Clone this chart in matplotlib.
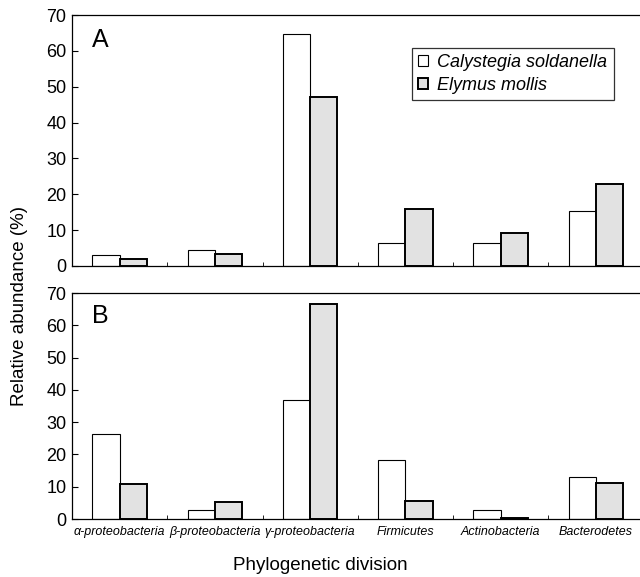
import numpy as np
import matplotlib
matplotlib.use("Agg")
import matplotlib.pyplot as plt

plt.rcParams["font.family"] = ["Liberation Sans", "DejaVu Sans"]

# === Data ===
categories = ["α-proteobacteria", "β-proteobacteria", "γ-proteobacteria",
              "Firmicutes", "Actinobacteria", "Bacterodetes"]
series_names = ["Calystegia soldanella", "Elymus mollis"]

# Panel A
a_calystegia = [3.1, 4.6, 64.6, 6.3, 6.3, 15.4]
a_elymus = [1.9, 3.3, 47.2, 15.8, 9.1, 23.0]
# Panel B
b_calystegia = [26.2, 2.8, 36.9, 18.3, 2.8, 13.1]
b_elymus = [10.8, 5.4, 66.6, 5.6, 0.2, 11.2]

x = np.arange(len(categories))
w = 0.285

fig = plt.figure(figsize=(6.4, 5.77), dpi=100)
ax_a = fig.add_axes([0.1125, 0.539, 0.893, 0.435])
ax_b = fig.add_axes([0.1125, 0.1005, 0.893, 0.3917])


def draw_panel(ax, vals1, vals2, letter):
    ax.bar(x - w / 2, vals1, w, facecolor="white", edgecolor="black",
           linewidth=0.8, label=series_names[0])
    ax.bar(x + w / 2, vals2, w, facecolor="#e2e2e2", edgecolor="black",
           linewidth=1.4, label=series_names[1])
    ax.set_xlim(-0.5, 5.5)
    ax.set_ylim(0, 70)
    ax.set_yticks(np.arange(0, 71, 10))
    ax.tick_params(axis="y", direction="in", length=4, labelsize=13, pad=4)
    ax.set_xticks(x)
    ax.set_xticks(x[:-1] + 0.5, minor=True)
    ax.tick_params(axis="x", which="major", length=0)
    ax.tick_params(axis="x", which="minor", direction="in", length=3)
    ax.spines["right"].set_visible(False)
    for s in ["top", "left", "bottom"]:
        ax.spines[s].set_linewidth(0.9)
    ax.text(0.035, 0.90, letter, transform=ax.transAxes, fontsize=18,
            va="center", ha="left")


draw_panel(ax_a, a_calystegia, a_elymus, "A")
draw_panel(ax_b, b_calystegia, b_elymus, "B")

ax_a.set_xticklabels([])
ax_b.set_xticklabels(categories, fontsize=9, style="italic")
ax_b.tick_params(axis="x", which="major", pad=5)

leg = ax_a.legend(loc="upper left", bbox_to_anchor=(0.595, 0.869),
                  prop={"style": "italic", "size": 13}, frameon=True,
                  fancybox=False, edgecolor="black", handlelength=0.55,
                  handleheight=0.55, handletextpad=0.5, borderpad=0.35,
                  labelspacing=0.3, borderaxespad=0)
leg.get_frame().set_linewidth(0.9)

fig.text(0.03, 0.47, "Relative abundance (%)", rotation=90, fontsize=13.5,
         ha="center", va="center")
fig.text(0.5, 0.02, "Phylogenetic division", fontsize=13.5, ha="center",
         va="center")

fig.savefig("out.png", dpi=100)
